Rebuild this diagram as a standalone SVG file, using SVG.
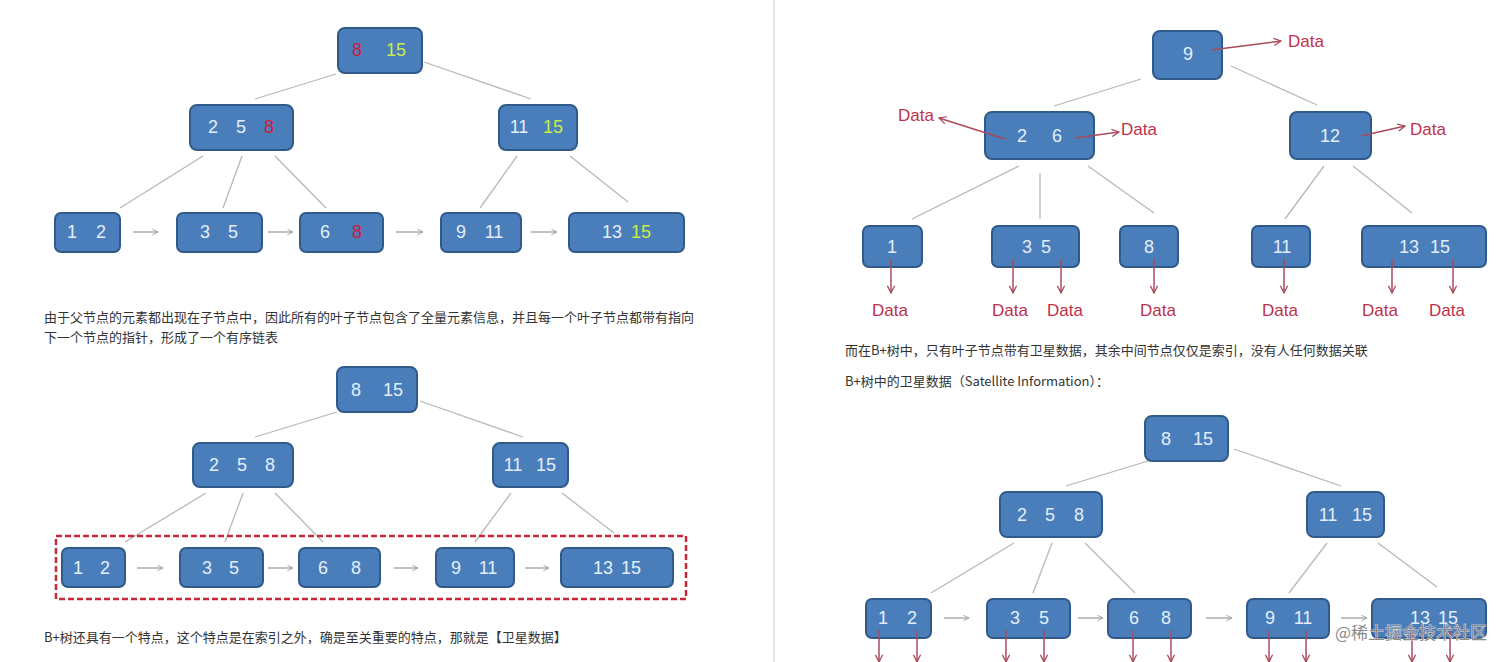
<svg xmlns="http://www.w3.org/2000/svg" width="1512" height="662" viewBox="0 0 1512 662">
<style>
.nd{fill:#4a7ebb;stroke:#2f5a8a;stroke-width:2}
.nt{font-family:"Liberation Sans Narrow","Liberation Sans",sans-serif;font-size:18px;fill:#e3eefa;text-anchor:middle;dominant-baseline:central}
.red{fill:#c8203f}
.yg{fill:#c9ec45}
.ln{stroke:#b8b8b8;stroke-width:1.3;fill:none}
.ga{stroke:#a0a0a0;stroke-width:1.3;fill:none;marker-end:url(#ag)}
.ra{stroke:#a84a5a;stroke-width:1.5;fill:none;marker-end:url(#ar)}
.dl{font-family:"Liberation Sans Narrow","Liberation Sans",sans-serif;font-size:17px;fill:#c0304a;text-anchor:middle;dominant-baseline:central}
.tx{font-family:"Noto Sans CJK SC","Noto Sans",sans-serif;font-size:13px;fill:#333}
</style>
<defs>
<marker id="ag" viewBox="0 0 10 10" refX="9" refY="5" markerWidth="7" markerHeight="7" orient="auto" markerUnits="userSpaceOnUse"><path d="M1,1 L9,5 L1,9" fill="none" stroke="#a0a0a0" stroke-width="1.3"/></marker>
<marker id="ar" viewBox="0 0 10 10" refX="9" refY="5" markerWidth="9" markerHeight="9" orient="auto" markerUnits="userSpaceOnUse"><path d="M1,1 L9,5 L1,9" fill="none" stroke="#a84a5a" stroke-width="1.4"/></marker>
</defs>
<rect width="1512" height="662" fill="#ffffff"/>
<line x1="774" y1="0" x2="774" y2="662" stroke="#dddddd" stroke-width="1.5"/>

<!-- Tree 1 -->
<g id="t1-connectors">
<line class="ln" x1="336" y1="74" x2="255" y2="99"/>
<line class="ln" x1="424" y1="62" x2="531" y2="99"/>
<line class="ln" x1="203" y1="156" x2="120" y2="208"/>
<line class="ln" x1="242" y1="156" x2="223" y2="208"/>
<line class="ln" x1="275" y1="156" x2="326" y2="208"/>
<line class="ln" x1="517" y1="156" x2="480" y2="208"/>
<line class="ln" x1="570" y1="156" x2="628" y2="202"/>
<line class="ga" x1="133" y1="232" x2="158" y2="232"/>
<line class="ga" x1="268" y1="232" x2="293" y2="232"/>
<line class="ga" x1="396" y1="232" x2="423" y2="232"/>
<line class="ga" x1="531" y1="232" x2="557" y2="232"/>
</g>
<g id="t1-root"><rect class="nd" x="338" y="28" width="84" height="45" rx="7"/><text class="nt red" x="357" y="50">8</text><text class="nt yg" x="396" y="50">15</text></g>
<g id="t1-n258"><rect class="nd" x="190" y="105" width="103" height="45" rx="7"/><text class="nt" x="213" y="127">2</text><text class="nt" x="241" y="127">5</text><text class="nt red" x="269" y="127">8</text></g>
<g id="t1-n1115"><rect class="nd" x="499" y="105" width="78" height="45" rx="7"/><text class="nt" x="519" y="127">11</text><text class="nt yg" x="553" y="127">15</text></g>
<g id="t1-l12"><rect class="nd" x="55" y="213" width="65" height="39" rx="6"/><text class="nt" x="72" y="232">1</text><text class="nt" x="101" y="232">2</text></g>
<g id="t1-l35"><rect class="nd" x="177" y="213" width="85" height="39" rx="6"/><text class="nt" x="205" y="232">3</text><text class="nt" x="233" y="232">5</text></g>
<g id="t1-l68"><rect class="nd" x="300" y="213" width="83" height="39" rx="6"/><text class="nt" x="325" y="232">6</text><text class="nt red" x="357" y="232">8</text></g>
<g id="t1-l911"><rect class="nd" x="441" y="213" width="80" height="39" rx="6"/><text class="nt" x="461" y="232">9</text><text class="nt" x="494" y="232">11</text></g>
<g id="t1-l1315"><rect class="nd" x="569" y="213" width="115" height="39" rx="6"/><text class="nt" x="612" y="232">13</text><text class="nt yg" x="641" y="232">15</text></g>

<text class="tx" x="44" y="322">由于父节点的元素都出现在子节点中，因此所有的叶子节点包含了全量元素信息，并且每一个叶子节点都带有指向</text>
<text class="tx" x="44" y="342">下一个节点的指针，形成了一个有序链表</text>

<!-- Tree 2 -->
<g id="t2-connectors">
<line class="ln" x1="337" y1="412" x2="255" y2="437"/>
<line class="ln" x1="420" y1="401" x2="523" y2="437"/>
<line class="ln" x1="206" y1="493" x2="125" y2="542"/>
<line class="ln" x1="243" y1="493" x2="225" y2="542"/>
<line class="ln" x1="275" y1="493" x2="323" y2="542"/>
<line class="ln" x1="511" y1="493" x2="475" y2="542"/>
<line class="ln" x1="562" y1="493" x2="614" y2="533"/>
<line class="ga" x1="137" y1="568" x2="163" y2="568"/>
<line class="ga" x1="268" y1="568" x2="293" y2="568"/>
<line class="ga" x1="394" y1="568" x2="418" y2="568"/>
<line class="ga" x1="525" y1="568" x2="549" y2="568"/>
</g>
<g id="t2-root"><rect class="nd" x="337" y="367" width="80" height="45" rx="7"/><text class="nt" x="356" y="390">8</text><text class="nt" x="393" y="390">15</text></g>
<g id="t2-n258"><rect class="nd" x="193" y="443" width="100" height="44" rx="7"/><text class="nt" x="214" y="465">2</text><text class="nt" x="242" y="465">5</text><text class="nt" x="270" y="465">8</text></g>
<g id="t2-n1115"><rect class="nd" x="493" y="443" width="75" height="44" rx="7"/><text class="nt" x="513" y="465">11</text><text class="nt" x="546" y="465">15</text></g>
<g id="t2-l12"><rect class="nd" x="62" y="548" width="63" height="39" rx="6"/><text class="nt" x="78" y="568">1</text><text class="nt" x="105" y="568">2</text></g>
<g id="t2-l35"><rect class="nd" x="180" y="548" width="83" height="39" rx="6"/><text class="nt" x="207" y="568">3</text><text class="nt" x="234" y="568">5</text></g>
<g id="t2-l68"><rect class="nd" x="299" y="548" width="81" height="39" rx="6"/><text class="nt" x="323" y="568">6</text><text class="nt" x="356" y="568">8</text></g>
<g id="t2-l911"><rect class="nd" x="436" y="548" width="78" height="39" rx="6"/><text class="nt" x="456" y="568">9</text><text class="nt" x="488" y="568">11</text></g>
<g id="t2-l1315"><rect class="nd" x="561" y="548" width="112" height="39" rx="6"/><text class="nt" x="603" y="568">13</text><text class="nt" x="631" y="568">15</text></g>
<rect id="leaf-highlight" x="56" y="536" width="630" height="63" fill="none" stroke="#c8283a" stroke-width="2.5" stroke-dasharray="6 3"/>

<text class="tx" x="44" y="642">B+树还具有一个特点，这个特点是在索引之外，确是至关重要的特点，那就是【卫星数据】</text>

<!-- Tree 3 -->
<g id="t3-connectors">
<line class="ln" x1="1141" y1="79" x2="1054" y2="106"/>
<line class="ln" x1="1231" y1="66" x2="1317" y2="105"/>
<line class="ln" x1="1019" y1="166" x2="912" y2="219"/>
<line class="ln" x1="1040" y1="173" x2="1040" y2="219"/>
<line class="ln" x1="1088" y1="166" x2="1154" y2="213"/>
<line class="ln" x1="1324" y1="166" x2="1285" y2="219"/>
<line class="ln" x1="1353" y1="166" x2="1412" y2="213"/>
</g>
<g id="t3-root"><rect class="nd" x="1153" y="31" width="69" height="48" rx="7"/><text class="nt" x="1188" y="54">9</text></g>
<g id="t3-n26"><rect class="nd" x="985" y="112" width="109" height="47" rx="7"/><text class="nt" x="1022" y="136">2</text><text class="nt" x="1057" y="136">6</text></g>
<g id="t3-n12"><rect class="nd" x="1290" y="112" width="81" height="47" rx="7"/><text class="nt" x="1330" y="136">12</text></g>
<g id="t3-l1"><rect class="nd" x="863" y="226" width="59" height="41" rx="6"/><text class="nt" x="892" y="247">1</text></g>
<g id="t3-l35"><rect class="nd" x="992" y="226" width="87" height="41" rx="6"/><text class="nt" x="1027" y="247">3</text><text class="nt" x="1046" y="247">5</text></g>
<g id="t3-l8"><rect class="nd" x="1120" y="226" width="58" height="41" rx="6"/><text class="nt" x="1149" y="247">8</text></g>
<g id="t3-l11"><rect class="nd" x="1252" y="226" width="58" height="41" rx="6"/><text class="nt" x="1282" y="247">11</text></g>
<g id="t3-l1315"><rect class="nd" x="1362" y="226" width="124" height="41" rx="6"/><text class="nt" x="1409" y="247">13</text><text class="nt" x="1440" y="247">15</text></g>
<g id="t3-data-arrows">
<line class="ra" x1="1211" y1="50" x2="1281" y2="41"/>
<line class="ra" x1="1005" y1="139" x2="939" y2="118"/>
<line class="ra" x1="1075" y1="138" x2="1119" y2="132"/>
<line class="ra" x1="1361" y1="136" x2="1405" y2="126"/>
<line class="ra" x1="891" y1="259" x2="891" y2="293"/>
<line class="ra" x1="1013" y1="259" x2="1013" y2="293"/>
<line class="ra" x1="1061" y1="259" x2="1061" y2="293"/>
<line class="ra" x1="1154" y1="259" x2="1154" y2="293"/>
<line class="ra" x1="1284" y1="259" x2="1284" y2="293"/>
<line class="ra" x1="1392" y1="259" x2="1392" y2="293"/>
<line class="ra" x1="1453" y1="259" x2="1453" y2="293"/>
</g>
<g id="t3-data-labels">
<text class="dl" x="1306" y="41">Data</text>
<text class="dl" x="916" y="115">Data</text>
<text class="dl" x="1139" y="129">Data</text>
<text class="dl" x="1428" y="129">Data</text>
<text class="dl" x="890" y="310">Data</text>
<text class="dl" x="1010" y="310">Data</text>
<text class="dl" x="1065" y="310">Data</text>
<text class="dl" x="1158" y="310">Data</text>
<text class="dl" x="1280" y="310">Data</text>
<text class="dl" x="1380" y="310">Data</text>
<text class="dl" x="1447" y="310">Data</text>
</g>

<text class="tx" x="845" y="355">而在B+树中，只有叶子节点带有卫星数据，其余中间节点仅仅是索引，没有人任何数据关联</text>
<text class="tx" x="845" y="386">B+树中的卫星数据（Satellite Information）：</text>

<!-- Tree 4 -->
<g id="t4-connectors">
<line class="ln" x1="1148" y1="461" x2="1066" y2="486"/>
<line class="ln" x1="1234" y1="449" x2="1341" y2="486"/>
<line class="ln" x1="1014" y1="543" x2="931" y2="593"/>
<line class="ln" x1="1052" y1="543" x2="1033" y2="593"/>
<line class="ln" x1="1085" y1="543" x2="1135" y2="593"/>
<line class="ln" x1="1327" y1="543" x2="1289" y2="593"/>
<line class="ln" x1="1378" y1="543" x2="1437" y2="587"/>
<line class="ga" x1="944" y1="618" x2="969" y2="618"/>
<line class="ga" x1="1078" y1="618" x2="1103" y2="618"/>
<line class="ga" x1="1206" y1="618" x2="1232" y2="618"/>
<line class="ga" x1="1341" y1="618" x2="1367" y2="618"/>
</g>
<g id="t4-root"><rect class="nd" x="1145" y="416" width="83" height="45" rx="7"/><text class="nt" x="1166" y="439">8</text><text class="nt" x="1203" y="439">15</text></g>
<g id="t4-n258"><rect class="nd" x="1000" y="492" width="102" height="45" rx="7"/><text class="nt" x="1022" y="515">2</text><text class="nt" x="1050" y="515">5</text><text class="nt" x="1079" y="515">8</text></g>
<g id="t4-n1115"><rect class="nd" x="1307" y="492" width="77" height="45" rx="7"/><text class="nt" x="1328" y="515">11</text><text class="nt" x="1362" y="515">15</text></g>
<g id="t4-l12"><rect class="nd" x="866" y="599" width="65" height="39" rx="6"/><text class="nt" x="883" y="618">1</text><text class="nt" x="912" y="618">2</text></g>
<g id="t4-l35"><rect class="nd" x="987" y="599" width="83" height="39" rx="6"/><text class="nt" x="1015" y="618">3</text><text class="nt" x="1044" y="618">5</text></g>
<g id="t4-l68"><rect class="nd" x="1108" y="599" width="83" height="39" rx="6"/><text class="nt" x="1134" y="618">6</text><text class="nt" x="1166" y="618">8</text></g>
<g id="t4-l911"><rect class="nd" x="1247" y="599" width="82" height="39" rx="6"/><text class="nt" x="1270" y="618">9</text><text class="nt" x="1303" y="618">11</text></g>
<g id="t4-l1315"><rect class="nd" x="1372" y="599" width="114" height="39" rx="6"/><text class="nt" x="1420" y="618">13</text><text class="nt" x="1448" y="618">15</text></g>
<g id="t4-data-arrows">
<line class="ra" x1="879" y1="630" x2="879" y2="662"/>
<line class="ra" x1="917" y1="630" x2="917" y2="662"/>
<line class="ra" x1="1006" y1="630" x2="1006" y2="662"/>
<line class="ra" x1="1044" y1="630" x2="1044" y2="662"/>
<line class="ra" x1="1133" y1="630" x2="1133" y2="662"/>
<line class="ra" x1="1171" y1="630" x2="1171" y2="662"/>
<line class="ra" x1="1269" y1="630" x2="1269" y2="662"/>
<line class="ra" x1="1306" y1="630" x2="1306" y2="662"/>
<line class="ra" x1="1412" y1="630" x2="1412" y2="662"/>
<line class="ra" x1="1450" y1="630" x2="1450" y2="662"/>
</g>
<text x="1335" y="639" font-family="Noto Sans CJK SC,sans-serif" font-size="17" fill="#8a8a8a" stroke="#ffffff" stroke-width="0.6" paint-order="stroke">@稀土掘金技术社区</text>
</svg>
